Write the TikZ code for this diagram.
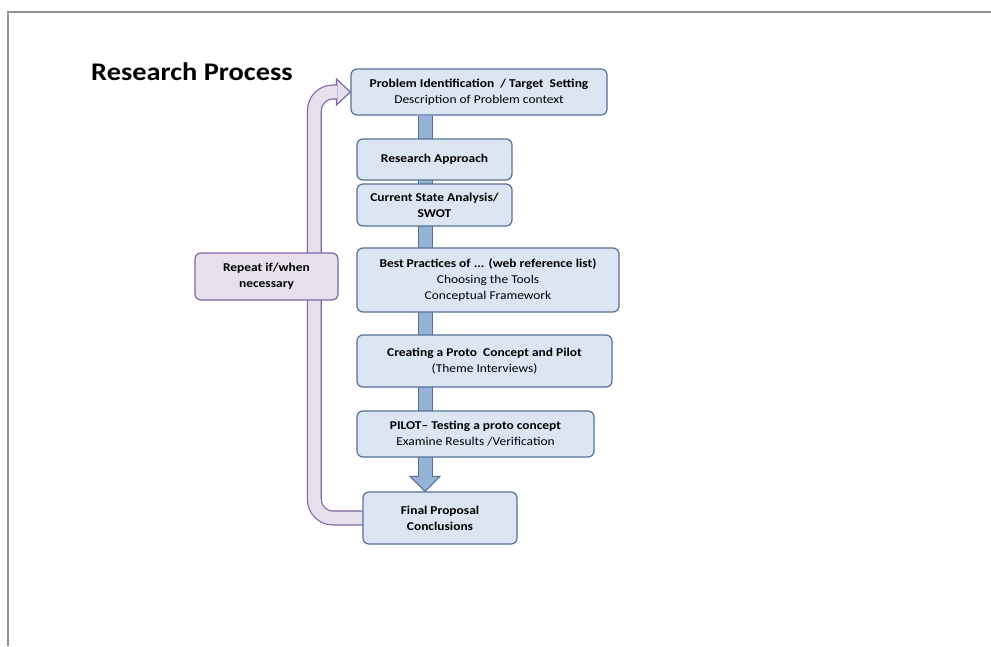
\documentclass[tikz,border=0pt]{standalone}
\usepackage{fontspec}
\setmainfont{Carlito}[FakeStretch=1.12]
\usetikzlibrary{calc,backgrounds}

\definecolor{stagefill}{RGB}{220,230,242}
\definecolor{stageborder}{RGB}{84,112,150}
\definecolor{barfill}{RGB}{149,179,215}
\definecolor{barborder}{RGB}{84,112,150}
\definecolor{loopfill}{RGB}{229,224,236}
\definecolor{loopborder}{RGB}{128,100,162}

\begin{document}
\begin{tikzpicture}[x=0.75pt, y=-0.75pt]
    % Define styles
    \tikzset{
        stage/.style={
            draw=stageborder,
            fill=stagefill,
            rounded corners=4.5pt,
            line width=0.9pt,
            align=center,
            inner sep=2pt,
            font=\fontsize{9}{12}\selectfont
        },
        loopbox/.style={
            stage,
            draw=loopborder,
            fill=loopfill
        },
        flowbar/.style={
            draw=barborder,
            double=barfill,
            double distance=9.75pt,
            line width=0.75pt
        },
        flowhead/.style={
            draw=barborder,
            fill=barfill,
            line width=0.75pt
        },
        loopband/.style={
            draw=loopborder,
            double=loopfill,
            double distance=9.5pt,
            line width=0.9pt,
            rounded corners=14pt
        },
        loophead/.style={
            draw=loopborder,
            fill=loopfill,
            line width=0.9pt
        },
        frame/.style={
            draw=gray!85,
            line width=1.1pt
        }
    }

    \useasboundingbox (0,0) rectangle (991,646);

    % Frame
    \draw[frame] (991,12) -- (8,12) -- (8,646);

    % Title
    \node[font=\fontsize{19}{21}\selectfont\bfseries] (title) at (192,72) {Research Process};

    % Stages
    \node[stage, minimum width=192pt, minimum height=34.5pt] (problem) at (479,92)
        {\textbf{Problem Identification~ / Target~ Setting}\\Description of Problem context};
    \node[stage, minimum width=116.25pt, minimum height=30.75pt] (approach) at (434.5,159.5)
        {\textbf{Research Approach}};
    \node[stage, minimum width=116.25pt, minimum height=31.5pt] (swot) at (434.5,205)
        {\textbf{Current State Analysis/}\\\textbf{SWOT}};
    \node[stage, minimum width=196.5pt, minimum height=48pt] (practices) at (488,280)
        {\textbf{Best Practices of ... (web reference list)}\\Choosing the Tools\\Conceptual Framework};
    \node[stage, minimum width=191.25pt, minimum height=39pt] (proto) at (484.5,361)
        {\textbf{Creating a Proto~ Concept and Pilot}\\(Theme Interviews)};
    \node[stage, minimum width=177.75pt, minimum height=34.5pt] (pilot) at (475.5,434)
        {\textbf{PILOT-- Testing a proto concept}\\Examine Results /Verification};
    \node[stage, minimum width=115.5pt, minimum height=39pt] (final) at (440,518)
        {\textbf{Final Proposal}\\\textbf{Conclusions}};

    % Repeat box
    \node[loopbox, minimum width=107.25pt, minimum height=35.25pt] (repeat) at (266.5,276.5)
        {\textbf{Repeat if/when}\\\textbf{necessary}};

    % Connectors
    \begin{scope}[on background layer]
        \coordinate (barx) at (425,0);
        \draw[flowhead] ($(barx |- final.north)+(-15,-15)$) -- (barx |- final.north)
            -- ($(barx |- final.north)+(15,-15)$) -- cycle;
        \draw[flowbar] (barx |- problem.south) -- ($(barx |- final.north)+(0,-14)$);

        \draw[loophead] ($(problem.west)+(-14,-13)$) -- (problem.west)
            -- ($(problem.west)+(-14,13)$) -- cycle;
        \draw[loopband] (final.west) -| ($(problem.west)+(-36,0)$) -- ($(problem.west)+(-13,0)$);
    \end{scope}
\end{tikzpicture}
\end{document}
